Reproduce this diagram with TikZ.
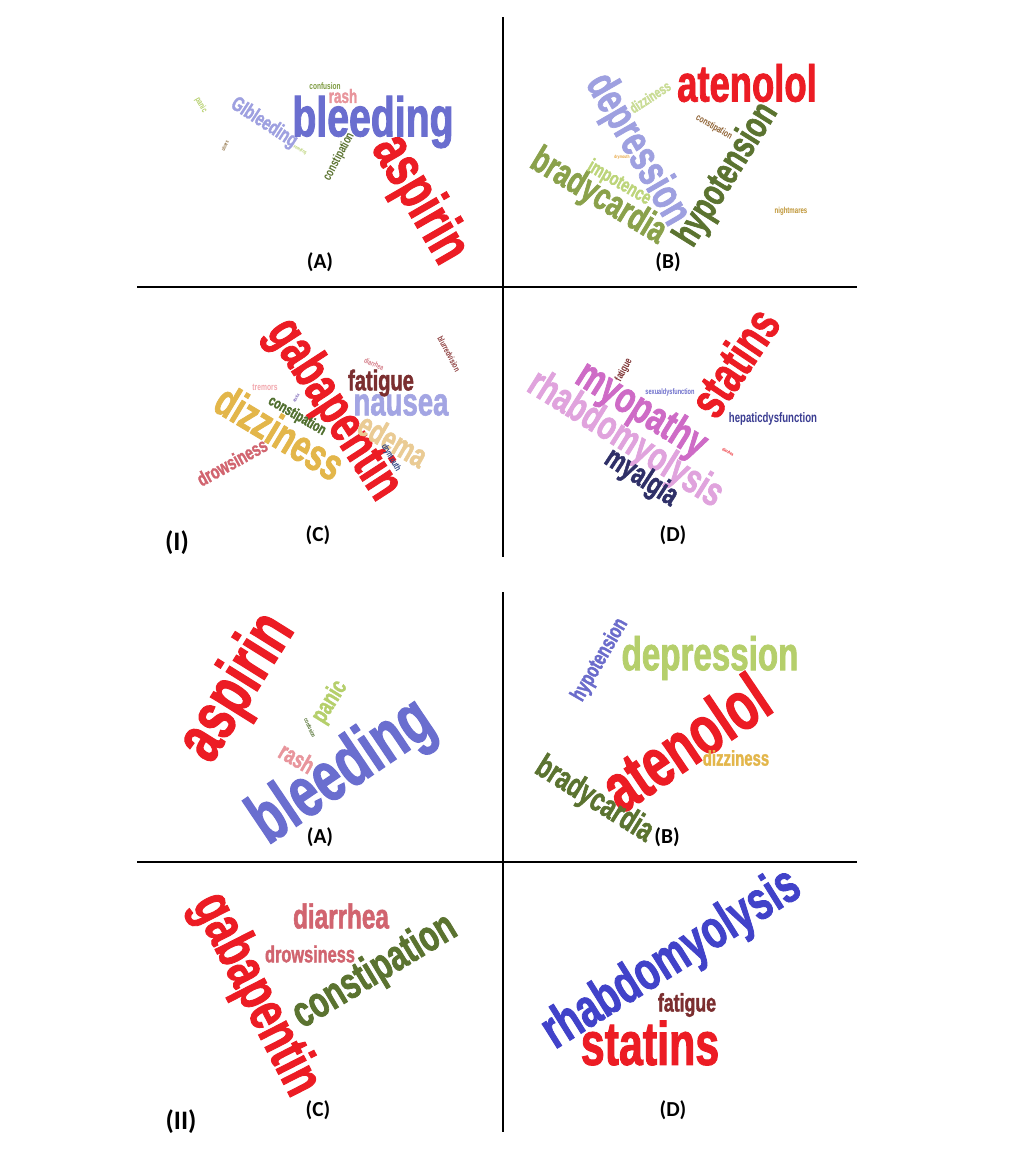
\documentclass[tikz,border=0pt]{standalone}
\usepackage{fontspec}
\setmainfont{Liberation Sans}
\newfontfamily\cloudfont[FakeStretch=0.7,FakeBold=1.5]{Liberation Sans}
\newfontfamily\cloudsmall[FakeStretch=0.7]{Liberation Sans}
\newfontfamily\labelfont{Carlito}
\usetikzlibrary{positioning}

\definecolor{cred}{HTML}{EC1C24}
\definecolor{cblue}{HTML}{6A6ECF}
\definecolor{clav}{HTML}{9EA0E0}
\definecolor{cpink}{HTML}{E8959C}
\definecolor{colive}{HTML}{7C9A3E}
\definecolor{clgreen}{HTML}{B5CF6B}
\definecolor{cdolive}{HTML}{5B7330}
\definecolor{cbrown}{HTML}{8C6D3F}
\definecolor{cgreen}{HTML}{8AA14B}
\definecolor{cimpo}{HTML}{BDD57A}
\definecolor{cpale}{HTML}{C9DC95}
\definecolor{crust}{HTML}{8C5E2E}
\definecolor{corange}{HTML}{E7A33C}
\definecolor{cochre}{HTML}{BF9535}
\definecolor{cgold}{HTML}{E3B64A}
\definecolor{cnausea}{HTML}{A3A5E3}
\definecolor{cmaroon}{HTML}{7B2E2F}
\definecolor{ctan}{HTML}{EACB94}
\definecolor{crose}{HTML}{D1646F}
\definecolor{cforest}{HTML}{4F6E2D}
\definecolor{clpink}{HTML}{F2A7AD}
\definecolor{cdpink}{HTML}{D47A85}
\definecolor{cbrick}{HTML}{8B3B3B}
\definecolor{cnavy}{HTML}{2F4583}
\definecolor{cviolet}{HTML}{7B64B8}
\definecolor{corchid}{HTML}{E0A3DD}
\definecolor{cmagenta}{HTML}{CE6BC6}
\definecolor{cindigo}{HTML}{2F3068}
\definecolor{croyal}{HTML}{3B3D92}
\definecolor{cperi}{HTML}{6B6CCB}
\definecolor{cstrong}{HTML}{4142C9}

\newcommand\wsize[1]{\fontsize{#1}{#1}\selectfont}

\tikzset{
    word/.style={inner sep=0pt, font=\cloudfont\bfseries},
    tinyword/.style={inner sep=0pt, font=\cloudsmall\bfseries},
    panellabel/.style={inner sep=0pt, font=\labelfont\bfseries\wsize{16}},
    partlabel/.style={inner sep=0pt, font=\labelfont\bfseries\wsize{20}},
    divider/.style={line width=1.1pt, black}
}

\begin{document}
\begin{tikzpicture}[x=0.75pt,y=-0.75pt]
    \fill[white] (0,0) rectangle (1010,1150);
    \useasboundingbox (0,0) rectangle (1010,1150);

    % dividers
    \draw [divider] (503,17) -- (503,557);
    \draw [divider] (137,287) -- (857,287);
    \draw [divider] (503,592) -- (503,1132);
    \draw [divider] (137,862) -- (857,862);

    % (I)(A)
    \node [word, text=cblue] (iableeding) at (373,122) {\wsize{42}bleeding};
    \node [word, text=cred, rotate=-60] (iaaspirin) at (419,200) {\wsize{45}aspirin};
    \node [word, text=clav, rotate=-33] (iagi) at (264,123) {\wsize{15.5}GIbleeding};
    \node [word, text=cpink] (iarash) at (343,96) {\wsize{14.5}rash};
    \node [tinyword, text=colive] (iaconfusion) at (325,86) {\wsize{7}confusion};
    \node [tinyword, text=clgreen, rotate=-60] (iapanic) at (201,105) {\wsize{6.5}panic};
    \node [tinyword, text=cdolive, rotate=62] (iaconst) at (339,157) {\wsize{9.5}constipation};
    \node [tinyword, text=cbrown, rotate=65] (iaulcers) at (225,146) {\wsize{4}ulcers};
    \node [tinyword, text=clgreen, rotate=-27] (iavomiting) at (300,150) {\wsize{3.6}vomiting};

    % (I)(B)
    \node [word, text=cred] (ibatenolol) at (747,83) {\wsize{39}atenolol};
    \node [word, text=clav, rotate=-60] (ibdepression) at (637,150) {\wsize{33.5}depression};
    \node [word, text=cdolive, rotate=58] (ibhypo) at (727,175) {\wsize{29}hypotension};
    \node [word, text=cgreen, rotate=-31] (ibbrady) at (598,197) {\wsize{28.5}bradycardia};
    \node [word, text=cimpo, rotate=-30] (ibimpotence) at (619,183) {\wsize{15}impotence};
    \node [word, text=cpale, rotate=33] (ibdizziness) at (650,97) {\wsize{11}dizziness};
    \node [tinyword, text=crust, rotate=-30] (ibconst) at (714,127) {\wsize{7.2}constipation};
    \node [tinyword, text=corange] (ibdrymouth) at (622,157) {\wsize{3.5}drymouth};
    \node [tinyword, text=cochre] (ibnightmares) at (791,211) {\wsize{6.5}nightmares};

    % (I)(C)
    \node [word, text=cgold, rotate=-31] (icdizziness) at (280,432) {\wsize{34}dizziness};
    \node [word, text=cred, rotate=-57] (icgabapentin) at (333,410) {\wsize{41}gabapentin};
    \node [word, text=cnausea] (icnausea) at (401,405) {\wsize{29.5}nausea};
    \node [word, text=cmaroon] (icfatigue) at (381,383) {\wsize{21.5}fatigue};
    \node [word, text=ctan, rotate=-30] (icedema) at (393,440) {\wsize{25}edema};
    \node [word, text=crose, rotate=29] (icdrowsiness) at (232,462) {\wsize{15}drowsiness};
    \node [word, text=cforest, rotate=-30] (icconst) at (297,416) {\wsize{11.5}constipation};
    \node [tinyword, text=clpink] (ictremors) at (265,387) {\wsize{7.2}tremors};
    \node [tinyword, text=cdpink, rotate=-25] (icdiarrhea) at (374,364) {\wsize{5.6}diarrhea};
    \node [tinyword, text=cbrick, rotate=-62] (icblurred) at (449,354) {\wsize{6.5}blurredvision};
    \node [tinyword, text=cnavy, rotate=-60] (icdrymouth) at (391,458) {\wsize{7}drymouth};
    \node [tinyword, text=cviolet, rotate=60] (icataxia) at (296,398) {\wsize{3.5}ataxia};

    % (I)(D)
    \node [word, text=corchid, rotate=-32] (idrhabdo) at (625,440) {\wsize{31}rhabdomyolysis};
    \node [word, text=cmagenta, rotate=-32] (idmyopathy) at (641,411) {\wsize{33}myopathy};
    \node [word, text=cred, rotate=56] (idstatins) at (734,362) {\wsize{39}statins};
    \node [word, text=cindigo, rotate=-33] (idmyalgia) at (641,478) {\wsize{23.2}myalgia};
    \node [tinyword, text=croyal] (idhepatic) at (773,419) {\wsize{10.3}hepaticdysfunction};
    \node [tinyword, text=cperi] (idsexual) at (670,392) {\wsize{6}sexualdysfunction};
    \node [tinyword, text=cmaroon, rotate=62] (idfatigue) at (624,370) {\wsize{8}fatigue};
    \node [tinyword, text=cred, rotate=-30] (iddiarrhea) at (728,452) {\wsize{3.3}diarrhea};

    % (II)(A)
    \node [word, text=cred, rotate=58] (iiaaspirin) at (238,688) {\wsize{52}aspirin};
    \node [word, text=cblue, rotate=34] (iiableeding) at (343,773) {\wsize{53.5}bleeding};
    \node [word, text=clgreen, rotate=58] (iiapanic) at (330,702) {\wsize{18.5}panic};
    \node [word, text=cpink, rotate=-30] (iiarash) at (297,758) {\wsize{18.5}rash};
    \node [tinyword, text=cforest, rotate=-65] (iiaconfusion) at (310,728) {\wsize{4.5}confusion};

    % (II)(B)
    \node [word, text=clgreen] (iibdepression) at (710,658) {\wsize{35.5}depression};
    \node [word, text=cred, rotate=34] (iibatenolol) at (685,742) {\wsize{52}atenolol};
    \node [word, text=cperi, rotate=60] (iibhypo) at (600,660) {\wsize{16.5}hypotension};
    \node [word, text=cgold] (iibdizziness) at (736,758) {\wsize{16}dizziness};
    \node [word, text=cdolive, rotate=-32] (iibbrady) at (594,800) {\wsize{25}bradycardia};

    % (II)(C)
    \node [word, text=cred, rotate=-63] (iicgabapentin) at (255,995) {\wsize{44}gabapentin};
    \node [word, text=crose] (iicdiarrhea) at (341,916) {\wsize{26}diarrhea};
    \node [word, text=crose] (iicdrowsiness) at (310,954) {\wsize{17.5}drowsiness};
    \node [word, text=cdolive, rotate=31] (iicconst) at (375,972) {\wsize{33}constipation};

    % (II)(D)
    \node [word, text=cstrong, rotate=32] (iidrhabdo) at (672,960) {\wsize{41}rhabdomyolysis};
    \node [word, text=cred] (iidstatins) at (650,1043) {\wsize{46}statins};
    \node [word, text=cmaroon] (iidfatigue) at (687,1005) {\wsize{19}fatigue};

    % labels
    \node [panellabel] (la) at (320,262) {(A)};
    \node [panellabel] (lb) at (668,262) {(B)};
    \node [panellabel] (lc) at (318,535) {(C)};
    \node [panellabel] (ld) at (673,535) {(D)};
    \node [partlabel] (lone) at (177,543) {(I)};
    \node [panellabel] (lia) at (320,837) {(A)};
    \node [panellabel] (lib) at (667,837) {(B)};
    \node [panellabel] (lic) at (318,1110) {(C)};
    \node [panellabel] (lid) at (673,1110) {(D)};
    \node [partlabel] (ltwo) at (181,1122) {(II)};
\end{tikzpicture}
\end{document}
